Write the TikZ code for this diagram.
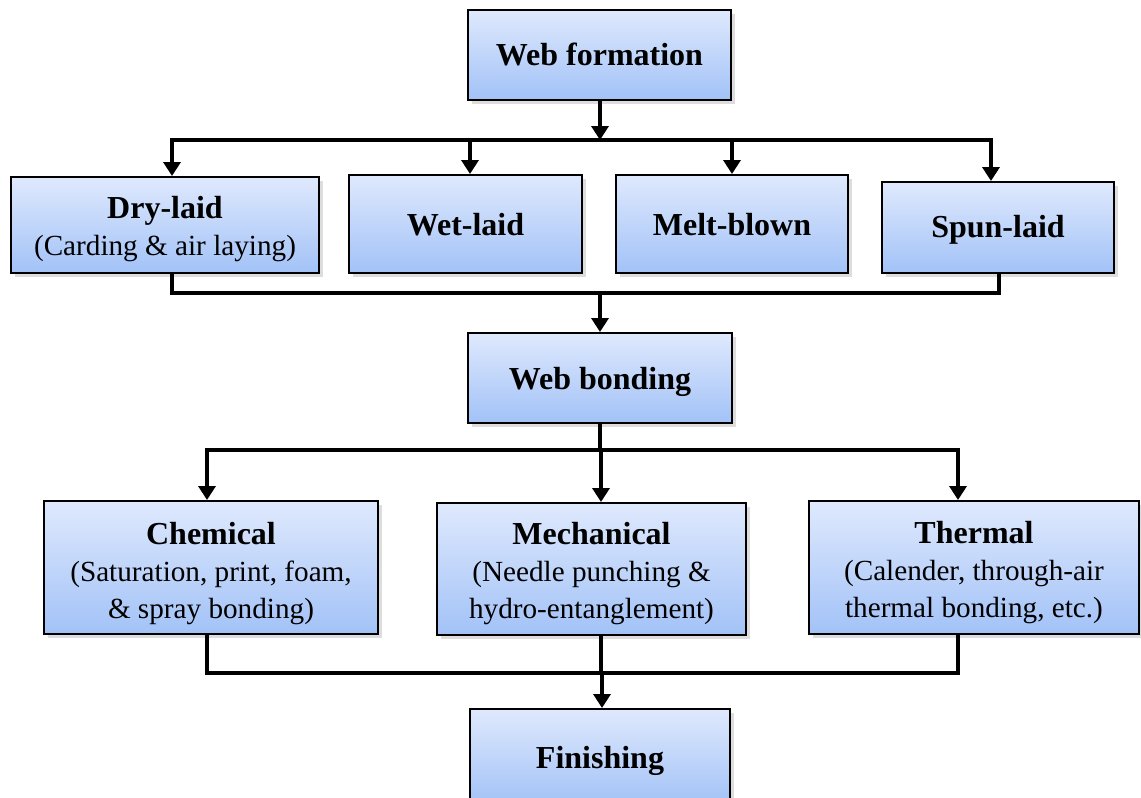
\documentclass[tikz,border=0pt]{standalone}
\usepackage{fontspec}
\setmainfont{Liberation Serif}
\usetikzlibrary{arrows.meta,shadows}
\definecolor{boxtop}{RGB}{223,233,253}
\definecolor{boxbot}{RGB}{162,194,247}
\newcommand\boxtitle[1]{{\fontsize{32}{37}\selectfont\bfseries #1}}
\newcommand\shifted[2]{\raisebox{-#1}[\height][\depth]{\begin{tabular}{@{}c@{}}#2\end{tabular}}}
\begin{document}
\begin{tikzpicture}[x=1pt,y=-1pt,
  box/.style={draw=black, line width=2pt, top color=boxtop, bottom color=boxbot,
    inner sep=0pt, align=center, font=\fontsize{29.2}{37}\selectfont,
    drop shadow={opacity=0.22, shadow xshift=4pt, shadow yshift=-4pt, fill=black!60}},
  ln/.style={line width=4.5pt, line cap=rect, line join=miter},
  arr/.style={line width=4.5pt, line cap=rect, -{Triangle[length=14pt,width=17pt]}}]
\useasboundingbox (0,0) rectangle (1141,798);
\clip (0,0) rectangle (1141,798);

% boxes
\node[box, minimum width=263pt, minimum height=90.5pt] (wf) at (599.5,54.75) {\shifted{3pt}{\boxtitle{Web formation}}};
\node[box, minimum width=308pt, minimum height=96pt] (dry) at (165,225) {\shifted{5pt}{\boxtitle{Dry-laid}\\(Carding \& air laying)}};
\node[box, minimum width=233pt, minimum height=98pt] (wet) at (465.5,224) {\shifted{4pt}{\boxtitle{Wet-laid}}};
\node[box, minimum width=232pt, minimum height=98pt] (melt) at (732,224) {\shifted{4pt}{\boxtitle{Melt-blown}}};
\node[box, minimum width=232pt, minimum height=91pt] (spun) at (998,227.5) {\shifted{3pt}{\boxtitle{Spun-laid}}};
\node[box, minimum width=264pt, minimum height=90pt] (wb) at (600,378) {\shifted{4pt}{\boxtitle{Web bonding}}};
\node[box, minimum width=334pt, minimum height=133pt] (chem) at (211,567.5) {\shifted{7pt}{\boxtitle{Chemical}\\(Saturation, print, foam,\\\& spray bonding)}};
\node[box, minimum width=309pt, minimum height=132pt] (mech) at (591.5,569) {\shifted{5pt}{\boxtitle{Mechanical}\\(Needle punching \&\\hydro-entanglement)}};
\node[box, minimum width=330pt, minimum height=133pt] (therm) at (974,567.5) {\shifted{6pt}{\boxtitle{Thermal}\\(Calender, through-air\\thermal bonding, etc.)}};
\node[box, minimum width=260pt, minimum height=96pt] (fin) at (600,757) {\shifted{4pt}{\boxtitle{Finishing}}};

% level 1 distribution
\coordinate (j1) at (600,140);
\coordinate (xdry) at (172,140);
\coordinate (xwet) at (470,140);
\coordinate (xmelt) at (732,140);
\coordinate (xspun) at (991,140);
\draw[ln] (xdry) -- (xspun);
\draw[arr] (wf.south -| j1) -- (j1);
\draw[arr] (xdry) -- (xdry |- dry.north);
\draw[arr] (xwet) -- (xwet |- wet.north);
\draw[arr] (xmelt) -- (xmelt |- melt.north);
\draw[arr] (xspun) -- (xspun |- spun.north);

% collection 1
\coordinate (m1) at (600,293);
\coordinate (xspunb) at (999,293);
\draw[ln] (xdry |- dry.south) -- (xdry |- m1) -- (xspunb) -- (xspunb |- spun.south);
\draw[arr] (m1) -- (m1 |- wb.north);

% level 2 distribution
\coordinate (j2) at (600,450);
\coordinate (xchem) at (207,450);
\coordinate (xmech) at (601,450);
\coordinate (xtherm) at (958,450);
\draw[ln] (wb.south -| j2) -- (j2);
\draw[ln] (xchem) -- (xtherm);
\draw[arr] (xchem) -- (xchem |- chem.north);
\draw[arr] (xmech) -- (xmech |- mech.north);
\draw[arr] (xtherm) -- (xtherm |- therm.north);

% collection 2
\coordinate (m2) at (602,673);
\draw[ln] (xchem |- chem.south) -- (xchem |- m2) -- (xtherm |- m2) -- (xtherm |- therm.south);
\draw[ln] (xmech |- mech.south) -- (xmech |- m2);
\draw[arr] (m2) -- (m2 |- fin.north);
\end{tikzpicture}
\end{document}
